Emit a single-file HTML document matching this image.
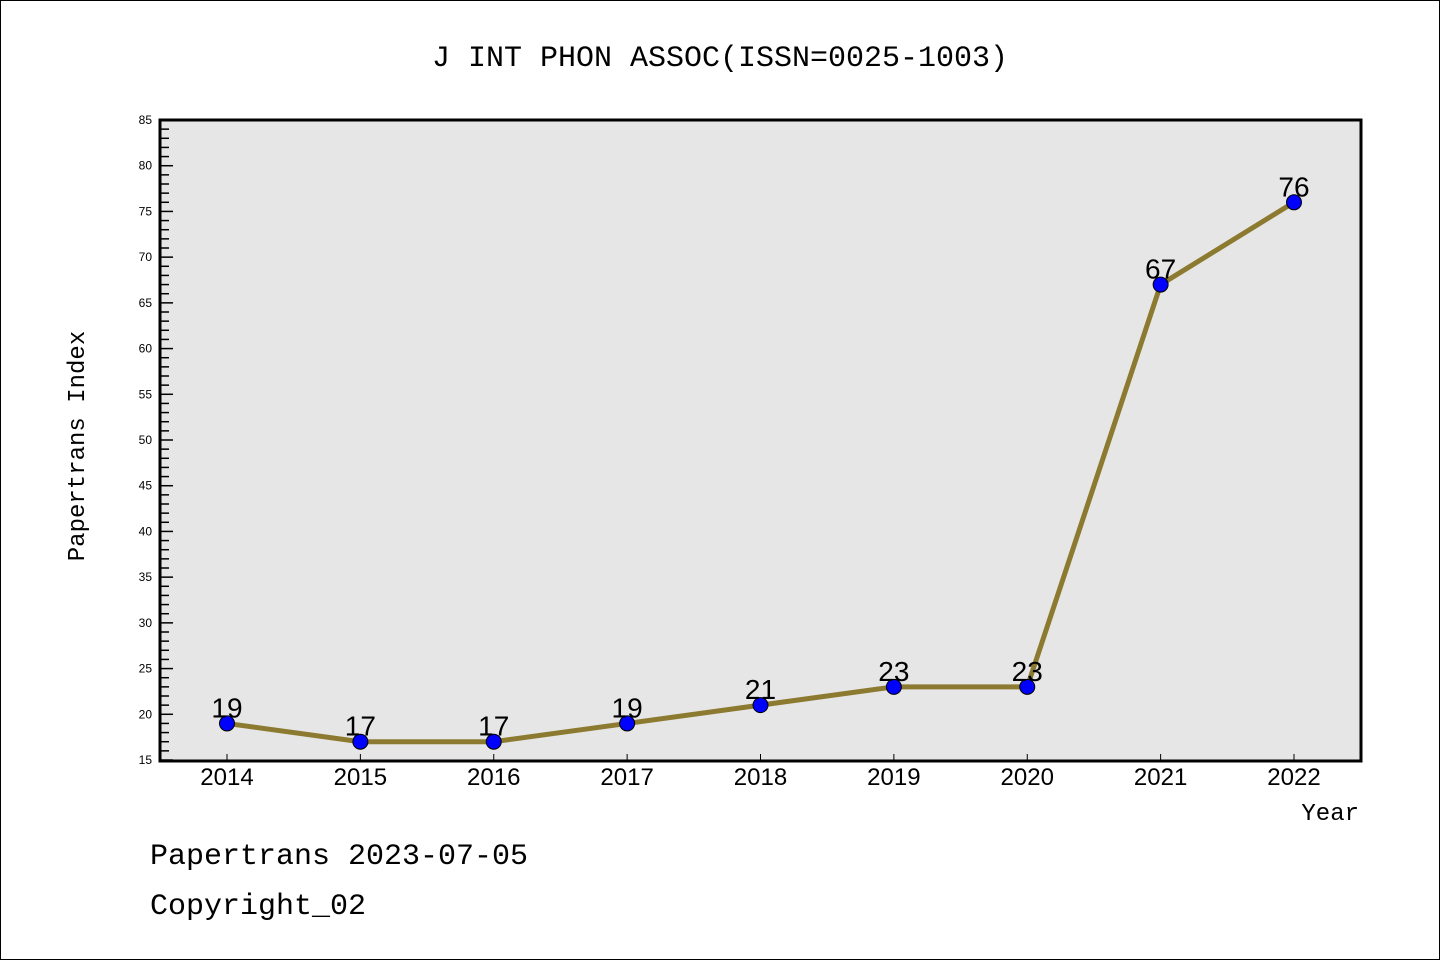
<!DOCTYPE html>
<html><head><meta charset="utf-8"><style>
body{margin:0;background:#fff}
svg{display:block;font-family:"Liberation Mono","DejaVu Sans Mono",monospace}
.sans{font-family:"Liberation Sans","DejaVu Sans",sans-serif}
</style></head><body>
<svg id="chart" width="1440" height="960">
<rect x="0.5" y="0.5" width="1439" height="959" fill="#fff" stroke="#000"/>
<text x="720" y="66" font-size="30" text-anchor="middle">J INT PHON ASSOC(ISSN=0025-1003)</text>
<rect x="160" y="120" width="1201" height="641" fill="#e6e6e6"/>
<g id="yaxis"></g>
<g id="xaxis"></g>
<g id="series"></g>
<rect x="160" y="120" width="1201" height="641" fill="none" stroke="#000" stroke-width="3"/>
<text transform="translate(84,446) rotate(-90)" font-size="24" text-anchor="middle">Papertrans Index</text>
<text x="1359" y="820" font-size="24" text-anchor="end">Year</text>
<text x="150" y="864" font-size="30">Papertrans 2023-07-05</text>
<text x="150" y="914" font-size="30">Copyright_02</text>
</svg>
<script>
const years=[2014,2015,2016,2017,2018,2019,2020,2021,2022];
const values=[19,17,17,19,21,23,23,67,76];
const yTicks=[15,20,25,30,35,40,45,50,55,60,65,70,75,80,85];
const NS="http://www.w3.org/2000/svg";
const X=i=>227+i*(1294-227)/(years.length-1);
const Y=v=>760-(v-15)*(640/70);
function mk(t,a,p){const e=document.createElementNS(NS,t);for(const k in a)e.setAttribute(k,a[k]);p.appendChild(e);return e;}
const ya=document.getElementById('yaxis'),xa=document.getElementById('xaxis'),s=document.getElementById('series');
for(let v=15;v<=85;v++){const major=v%5===0;
 const l=mk('line',{x1:160,x2:160+(major?13:9),y1:Y(v),y2:Y(v),stroke:'#000','stroke-width':1.5},ya);
 
 }
yTicks.forEach(v=>{const t=mk('text',{x:152,y:Y(v)+4,'font-size':12,'text-anchor':'end',class:'sans'},ya);t.textContent=v;
 
 });
years.forEach((y,i)=>{const l=mk('line',{x1:X(i),x2:X(i),y1:760,y2:754,stroke:'#000','stroke-width':1},xa);
 
 
 const t=mk('text',{x:X(i),y:785,'font-size':24,'text-anchor':'middle',class:'sans'},xa);t.textContent=y;
 
 });
const pl=mk('polyline',{points:values.map((v,i)=>X(i)+','+Y(v)).join(' '),fill:'none',stroke:'#8b7a30','stroke-width':5},s);


values.forEach((v,i)=>{const c=mk('circle',{cx:X(i),cy:Y(v),r:7.5,fill:'#0000ff',stroke:'#000','stroke-width':1},s);
 
 
 const t=mk('text',{x:X(i),y:Y(v)-6,'font-size':28,'text-anchor':'middle',fill:'#000',class:'sans'},s);t.textContent=v;
 
 });
</script>
</body></html>
